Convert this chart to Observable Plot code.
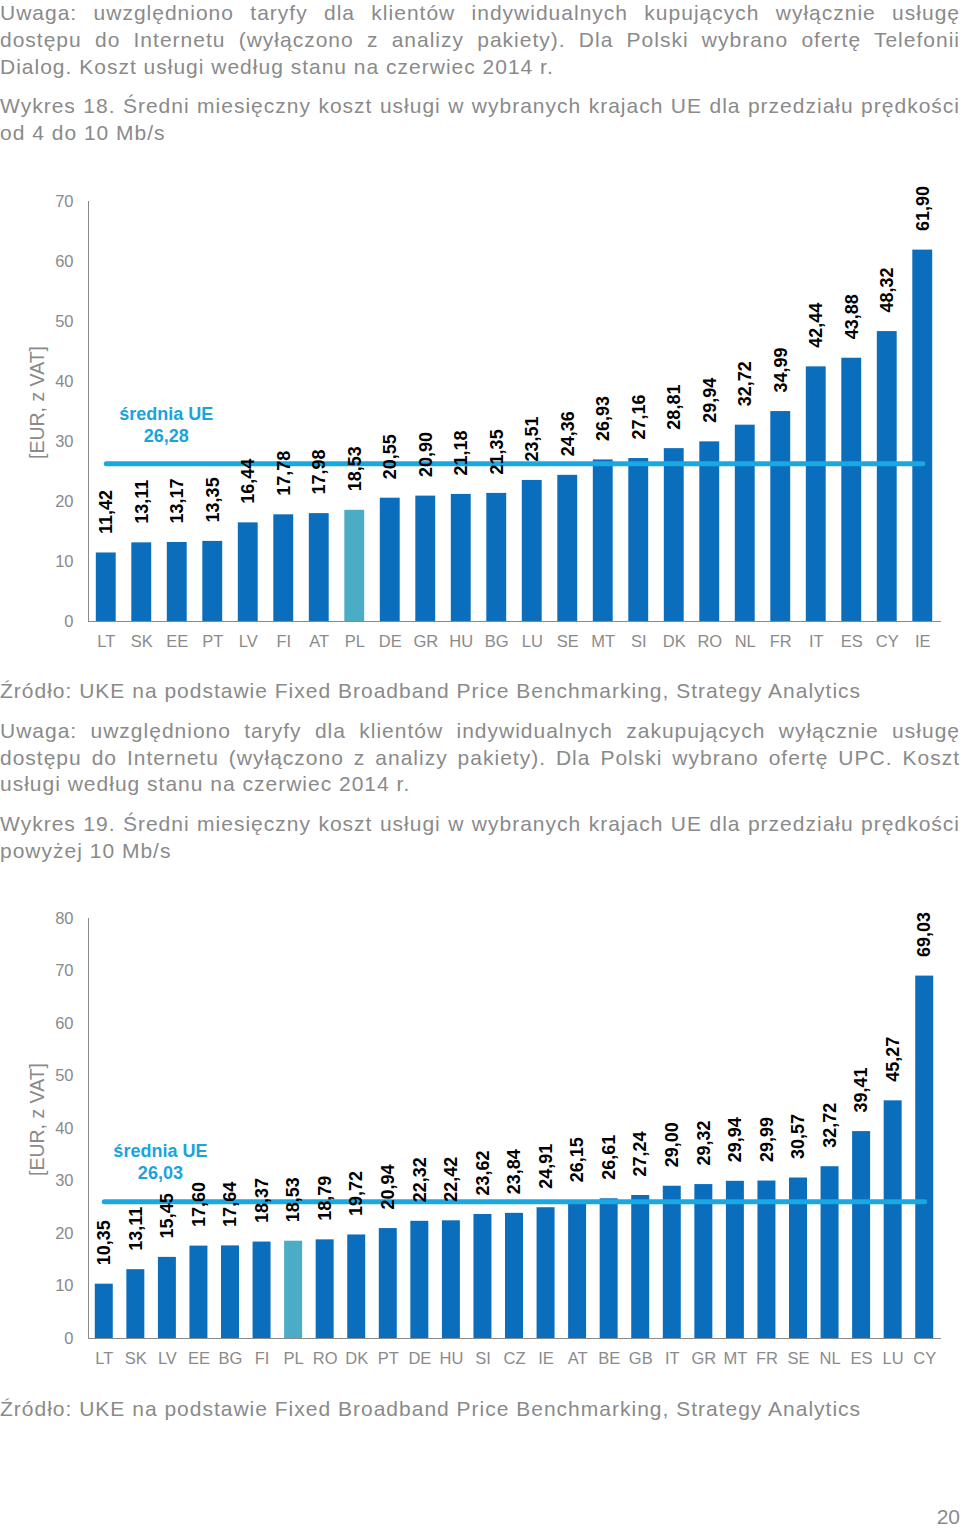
<!DOCTYPE html>
<html><head><meta charset="utf-8">
<script src="https://cdn.jsdelivr.net/npm/d3@7"></script>
<script src="https://cdn.jsdelivr.net/npm/@observablehq/plot@0.6"></script>
<style>
body{margin:0;background:#fff;}
#page{position:relative;width:960px;height:1529px;overflow:hidden;font-family:"Liberation Sans",Arial,sans-serif;color:#8a8a8a;background:#fff;}
.ln{position:absolute;left:0;width:960px;font-size:21px;letter-spacing:1px;line-height:26px;white-space:nowrap;}
.j{text-align:justify;text-align-last:justify;}
.chart{position:absolute;left:0;}
</style></head><body><div id="page">
<div class="ln j" style="top:0px">Uwaga: uwzględniono taryfy dla klientów indywidualnych kupujących wyłącznie usługę</div>
<div class="ln j" style="top:27px">dostępu do Internetu (wyłączono z analizy pakiety). Dla Polski wybrano ofertę Telefonii</div>
<div class="ln" style="top:54px">Dialog. Koszt usługi według stanu na czerwiec 2014 r.</div>
<div class="ln j" style="top:93px">Wykres 18. Średni miesięczny koszt usługi w wybranych krajach UE dla przedziału prędkości</div>
<div class="ln" style="top:120px">od 4 do 10 Mb/s</div>
<div id="c1" class="chart" style="top:170px"></div>
<div class="ln" style="top:678px">Źródło: UKE na podstawie Fixed Broadband Price Benchmarking, Strategy Analytics</div>
<div class="ln j" style="top:718px">Uwaga: uwzględniono taryfy dla klientów indywidualnych zakupujących wyłącznie usługę</div>
<div class="ln j" style="top:745px">dostępu do Internetu (wyłączono z analizy pakiety). Dla Polski wybrano ofertę UPC. Koszt</div>
<div class="ln" style="top:771px">usługi według stanu na czerwiec 2014 r.</div>
<div class="ln j" style="top:811px">Wykres 19. Średni miesięczny koszt usługi w wybranych krajach UE dla przedziału prędkości</div>
<div class="ln" style="top:838px">powyżej 10 Mb/s</div>
<div id="c2" class="chart" style="top:890px"></div>
<div class="ln" style="top:1396px">Źródło: UKE na podstawie Fixed Broadband Price Benchmarking, Strategy Analytics</div>
<div class="ln" style="top:1504px;text-align:right;letter-spacing:0">20</div>
</div>
<script>
const countries1 = ["LT","SK","EE","PT","LV","FI","AT","PL","DE","GR","HU","BG","LU","SE","MT","SI","DK","RO","NL","FR","IT","ES","CY","IE"];
const values1 = [11.42,13.11,13.17,13.35,16.44,17.78,17.98,18.53,20.55,20.90,21.18,21.35,23.51,24.36,26.93,27.16,28.81,29.94,32.72,34.99,42.44,43.88,48.32,61.90];
const avg1 = 26.28;
const yTicks1 = [0,10,20,30,40,50,60,70];

const countries2 = ["LT","SK","LV","EE","BG","FI","PL","RO","DK","PT","DE","HU","SI","CZ","IE","AT","BE","GB","IT","GR","MT","FR","SE","NL","ES","LU","CY"];
const values2 = [10.35,13.11,15.45,17.60,17.64,18.37,18.53,18.79,19.72,20.94,22.32,22.42,23.62,23.84,24.91,26.15,26.61,27.24,29.00,29.32,29.94,29.99,30.57,32.72,39.41,45.27,69.03];
const avg2 = 26.03;
const yTicks2 = [0,10,20,30,40,50,60,70,80];

const highlight = "PL";
const yLabel = "[EUR, z VAT]";
const avgLabel = "średnia UE";

const fmt = v => d3.format(".2f")(v).replace(".", ",");

function makeChart(countries, values, avg, ticks, opts) {
  const data = countries.map((c, i) => ({country: c, value: values[i]}));
  const yMax = ticks[ticks.length - 1];
  return Plot.plot({
    width: 960,
    height: opts.height,
    marginLeft: 88,
    marginRight: 20,
    marginTop: opts.marginTop,
    marginBottom: opts.marginBottom,
    style: {fontFamily: "'Liberation Sans', Arial, sans-serif", fontSize: "16.5px", color: "#8a8a8a", background: "white", overflow: "visible"},
    x: {domain: countries, round: false, paddingInner: opts.pad, paddingOuter: opts.pad / 2, tickSize: 0, tickPadding: 14, label: null, line: true},
    y: {domain: [0, yMax], ticks: ticks, tickSize: 0, tickPadding: 15, label: null, line: true},
    marks: [
      Plot.barY(data, {filter: d => d.country !== highlight, x: "country", y: "value", fill: "#0A6EBD"}),
      Plot.barY(data, {filter: d => d.country === highlight, x: "country", y: "value", fill: "#4BACC6"}),
      Plot.lineY(countries, {x: d => d, y: () => avg, stroke: "#1AA8E2", strokeWidth: 5}),
      Plot.text(data, {x: "country", y: "value", text: d => fmt(d.value), rotate: -90, textAnchor: "start", lineAnchor: "middle", dy: -19, fontSize: 18, fontWeight: "bold", fill: "black"}),
      Plot.text([avgLabel + "\n" + fmt(avg)], {x: () => opts.annCountry, y: () => opts.annY, dx: opts.annDx, text: d => d, fontSize: 18, fontWeight: "bold", fill: "#1AA3DC", lineHeight: 1.22, lineAnchor: "middle", textAnchor: "middle"}),
      Plot.text([yLabel], {frameAnchor: "left", text: d => d, rotate: -90, dx: -51, dy: -9, fontSize: 19.5, fill: "#8a8a8a", lineAnchor: "middle", textAnchor: "middle"})
    ]
  });
}

document.getElementById("c1").appendChild(makeChart(countries1, values1, avg1, yTicks1,
  {height: 490, marginTop: 31, marginBottom: 39, pad: 0.44, annCountry: "EE", annY: 33.0, annDx: -11}));
document.getElementById("c2").appendChild(makeChart(countries2, values2, avg2, yTicks2,
  {height: 490, marginTop: 28, marginBottom: 42, pad: 0.43, annCountry: "LV", annY: 33.8, annDx: -7}));
</script>
</body></html>
